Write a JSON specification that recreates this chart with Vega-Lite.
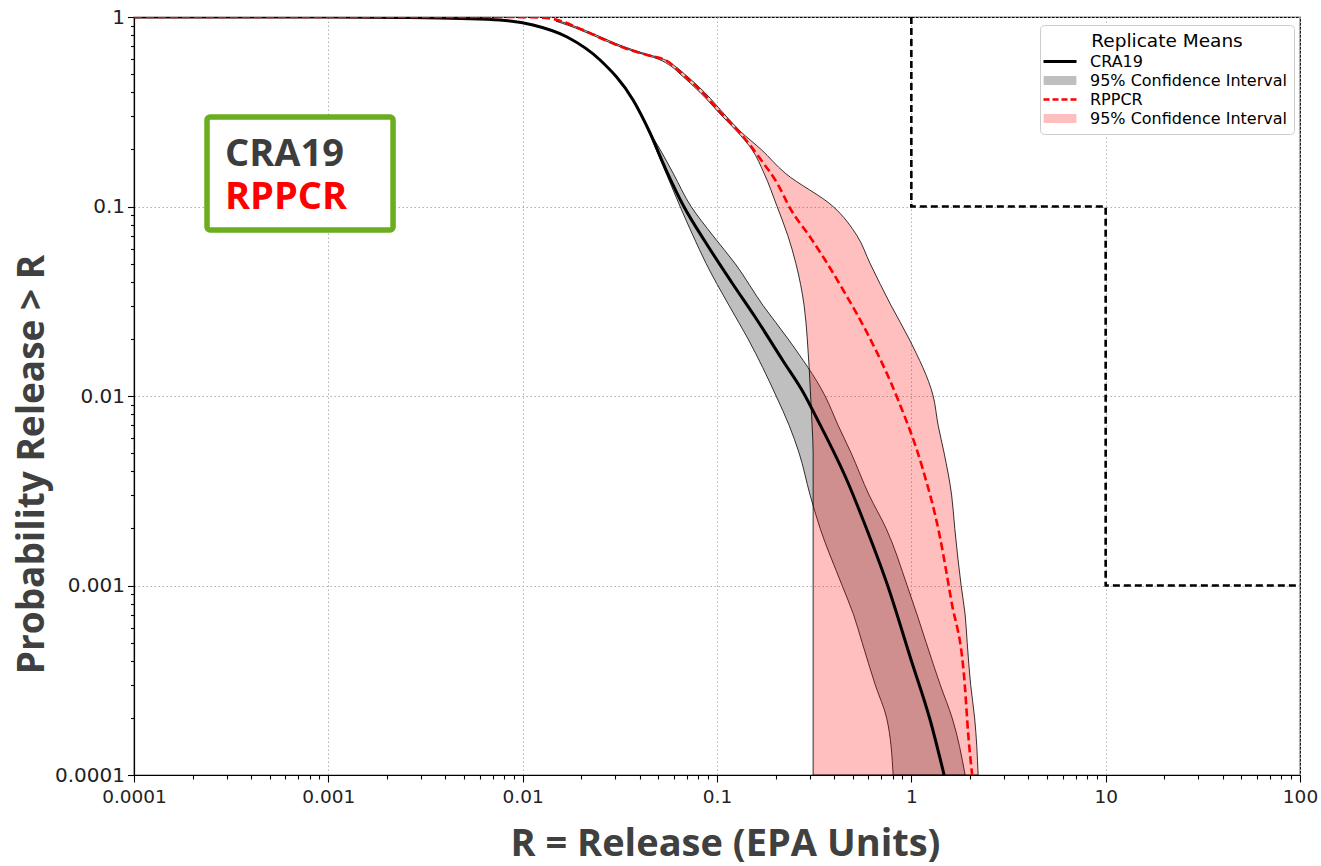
{
  "$schema": "https://vega.github.io/schema/vega-lite/v6.json",
  "width": 1166,
  "height": 758,
  "autosize": {"type": "none"},
  "padding": {"left": 134, "top": 17, "right": 21, "bottom": 91},
  "background": "white",
  "config": {
    "view": {"stroke": "black", "strokeWidth": 1.2},
    "font": "DejaVu Sans"
  },
  "datasets": {
    "bands": [
      {"series": "CRA19", "y": 0.24, "lo": 0.04525, "hi": 0.04579},
      {"series": "CRA19", "y": 0.2, "lo": 0.04859, "hi": 0.05095},
      {"series": "CRA19", "y": 0.15, "lo": 0.0547, "hi": 0.05943},
      {"series": "CRA19", "y": 0.1, "lo": 0.06458, "hi": 0.07358},
      {"series": "CRA19", "y": 0.07, "lo": 0.07534, "hi": 0.09548},
      {"series": "CRA19", "y": 0.05, "lo": 0.08789, "hi": 0.1239},
      {"series": "CRA19", "y": 0.03, "lo": 0.1154, "hi": 0.1727},
      {"series": "CRA19", "y": 0.02, "lo": 0.1445, "hi": 0.2322},
      {"series": "CRA19", "y": 0.01, "lo": 0.2015, "hi": 0.36},
      {"series": "CRA19", "y": 0.007, "lo": 0.235, "hi": 0.42},
      {"series": "CRA19", "y": 0.005, "lo": 0.2646, "hi": 0.49},
      {"series": "CRA19", "y": 0.003, "lo": 0.3014, "hi": 0.6065},
      {"series": "CRA19", "y": 0.002, "lo": 0.3393, "hi": 0.7419},
      {"series": "CRA19", "y": 0.001, "lo": 0.4404, "hi": 0.9515},
      {"series": "CRA19", "y": 0.0007, "lo": 0.5047, "hi": 1.071},
      {"series": "CRA19", "y": 0.0005, "lo": 0.5582, "hi": 1.192},
      {"series": "CRA19", "y": 0.0003, "lo": 0.6512, "hi": 1.407},
      {"series": "CRA19", "y": 0.0002, "lo": 0.7463, "hi": 1.622},
      {"series": "CRA19", "y": 0.0001, "lo": 0.8058, "hi": 1.892},
      {"series": "RPPCR", "y": 0.95, "lo": 0.01485, "hi": 0.01558},
      {"series": "RPPCR", "y": 0.9, "lo": 0.01733, "hi": 0.01817},
      {"series": "RPPCR", "y": 0.8, "lo": 0.02304, "hi": 0.02415},
      {"series": "RPPCR", "y": 0.7, "lo": 0.03134, "hi": 0.03286},
      {"series": "RPPCR", "y": 0.65, "lo": 0.0388, "hi": 0.04068},
      {"series": "RPPCR", "y": 0.6, "lo": 0.04975, "hi": 0.05281},
      {"series": "RPPCR", "y": 0.55, "lo": 0.05804, "hi": 0.06084},
      {"series": "RPPCR", "y": 0.5, "lo": 0.06458, "hi": 0.06812},
      {"series": "RPPCR", "y": 0.4, "lo": 0.08185, "hi": 0.08635},
      {"series": "RPPCR", "y": 0.3, "lo": 0.1062, "hi": 0.1113},
      {"series": "RPPCR", "y": 0.25, "lo": 0.1262, "hi": 0.1315},
      {"series": "RPPCR", "y": 0.2, "lo": 0.1512, "hi": 0.1687},
      {"series": "RPPCR", "y": 0.15, "lo": 0.1745, "hi": 0.2242},
      {"series": "RPPCR", "y": 0.1, "lo": 0.2038, "hi": 0.3958},
      {"series": "RPPCR", "y": 0.07, "lo": 0.2317, "hi": 0.526},
      {"series": "RPPCR", "y": 0.05, "lo": 0.2547, "hi": 0.6138},
      {"series": "RPPCR", "y": 0.03, "lo": 0.2808, "hi": 0.787},
      {"series": "RPPCR", "y": 0.02, "lo": 0.2915, "hi": 0.9743},
      {"series": "RPPCR", "y": 0.01, "lo": 0.3032, "hi": 1.295},
      {"series": "RPPCR", "y": 0.007, "lo": 0.3086, "hi": 1.374},
      {"series": "RPPCR", "y": 0.005, "lo": 0.3124, "hi": 1.475},
      {"series": "RPPCR", "y": 0.003, "lo": 0.3124, "hi": 1.612},
      {"series": "RPPCR", "y": 0.002, "lo": 0.3124, "hi": 1.673},
      {"series": "RPPCR", "y": 0.001, "lo": 0.3124, "hi": 1.804},
      {"series": "RPPCR", "y": 0.0007, "lo": 0.3124, "hi": 1.892},
      {"series": "RPPCR", "y": 0.0005, "lo": 0.3124, "hi": 1.938},
      {"series": "RPPCR", "y": 0.0003, "lo": 0.3124, "hi": 2.019},
      {"series": "RPPCR", "y": 0.0002, "lo": 0.3124, "hi": 2.117},
      {"series": "RPPCR", "y": 0.0001, "lo": 0.3124, "hi": 2.207}
    ],
    "means": [
      {"series": "CRA19", "x": 0.0001, "y": 1},
      {"series": "CRA19", "x": 0.001, "y": 1},
      {"series": "CRA19", "x": 0.002339, "y": 0.9939},
      {"series": "CRA19", "x": 0.004762, "y": 0.9819},
      {"series": "CRA19", "x": 0.00765, "y": 0.9642},
      {"series": "CRA19", "x": 0.01131, "y": 0.9073},
      {"series": "CRA19", "x": 0.01693, "y": 0.7843},
      {"series": "CRA19", "x": 0.02502, "y": 0.593},
      {"series": "CRA19", "x": 0.037, "y": 0.3648},
      {"series": "CRA19", "x": 0.04525, "y": 0.2443},
      {"series": "CRA19", "x": 0.0547, "y": 0.1558},
      {"series": "CRA19", "x": 0.06773, "y": 0.0994},
      {"series": "CRA19", "x": 0.08583, "y": 0.06656},
      {"series": "CRA19", "x": 0.1196, "y": 0.03948},
      {"series": "CRA19", "x": 0.1571, "y": 0.02611},
      {"series": "CRA19", "x": 0.2189, "y": 0.0153},
      {"series": "CRA19", "x": 0.2808, "y": 0.01025},
      {"series": "CRA19", "x": 0.3236, "y": 0.007747},
      {"series": "CRA19", "x": 0.4728, "y": 0.003474},
      {"series": "CRA19", "x": 0.5649, "y": 0.002216},
      {"series": "CRA19", "x": 0.7596, "y": 0.000982},
      {"series": "CRA19", "x": 0.9977, "y": 0.0004045},
      {"series": "CRA19", "x": 1.2496, "y": 0.0001951},
      {"series": "CRA19", "x": 1.475, "y": 0.0001},
      {"series": "RPPCR", "x": 0.0001, "y": 1},
      {"series": "RPPCR", "x": 0.00765, "y": 1},
      {"series": "RPPCR", "x": 0.01092, "y": 0.9964},
      {"series": "RPPCR", "x": 0.01384, "y": 0.9819},
      {"series": "RPPCR", "x": 0.02046, "y": 0.854},
      {"series": "RPPCR", "x": 0.02655, "y": 0.7561},
      {"series": "RPPCR", "x": 0.03446, "y": 0.6779},
      {"series": "RPPCR", "x": 0.04368, "y": 0.6303},
      {"series": "RPPCR", "x": 0.05535, "y": 0.5858},
      {"series": "RPPCR", "x": 0.06458, "y": 0.5126},
      {"series": "RPPCR", "x": 0.08185, "y": 0.4119},
      {"series": "RPPCR", "x": 0.1037, "y": 0.3152},
      {"series": "RPPCR", "x": 0.1315, "y": 0.2443},
      {"series": "RPPCR", "x": 0.1687, "y": 0.1759},
      {"series": "RPPCR", "x": 0.2038, "y": 0.133},
      {"series": "RPPCR", "x": 0.2406, "y": 0.09583},
      {"series": "RPPCR", "x": 0.3014, "y": 0.06903},
      {"series": "RPPCR", "x": 0.36, "y": 0.0522},
      {"series": "RPPCR", "x": 0.4457, "y": 0.03626},
      {"series": "RPPCR", "x": 0.5924, "y": 0.02151},
      {"series": "RPPCR", "x": 0.8553, "y": 0.009526},
      {"series": "RPPCR", "x": 1.137, "y": 0.004221},
      {"series": "RPPCR", "x": 1.39, "y": 0.001892},
      {"series": "RPPCR", "x": 1.603, "y": 0.000839},
      {"series": "RPPCR", "x": 1.881, "y": 0.0003058},
      {"series": "RPPCR", "x": 1.96, "y": 0.0001665},
      {"series": "RPPCR", "x": 2.056, "y": 0.0001}
    ],
    "limit": [
      {"i": 0, "x": 1, "y": 1},
      {"i": 1, "x": 1, "y": 0.1},
      {"i": 2, "x": 10, "y": 0.1},
      {"i": 3, "x": 10, "y": 0.001},
      {"i": 4, "x": 100, "y": 0.001}
    ]
  },
  "layer": [
    {
      "data": {"name": "bands"},
      "transform": [{"filter": "datum.series === 'CRA19'"}],
      "mark": {"type": "area", "orient": "horizontal", "fill": "#bfbfbf", "opacity": 1, "stroke": "black", "strokeWidth": 0.8, "interpolate": "monotone", "clip": true},
      "encoding": {
        "y": {
          "field": "y", "type": "quantitative", "title": "Probability Release > R",
          "scale": {"type": "log", "domain": [0.0001, 1], "nice": false},
          "axis": {
            "values": [0.0001, 0.0002, 0.0003, 0.0004, 0.0005, 0.0006, 0.0007, 0.0008, 0.0009, 0.001, 0.002, 0.003, 0.004, 0.005, 0.006, 0.007, 0.008, 0.009, 0.01, 0.02, 0.03, 0.04, 0.05, 0.06, 0.07, 0.08, 0.09, 0.1, 0.2, 0.3, 0.4, 0.5, 0.6, 0.7, 0.8, 0.9, 1],
            "labelExpr": "abs(log(datum.value)/LN10 - round(log(datum.value)/LN10)) < 0.000001 ? format(datum.value, '~g') : ''",
            "labelOverlap": false, "labelFlush": false, "labelBound": false,
            "tickSize": {"condition": {"test": "abs(log(datum.value)/LN10 - round(log(datum.value)/LN10)) < 0.000001", "value": 6.5}, "value": 3.5},
            "tickColor": "black", "tickWidth": 1.1,
            "grid": true,
            "gridOpacity": {"condition": {"test": "abs(log(datum.value)/LN10 - round(log(datum.value)/LN10)) < 0.000001", "value": 1}, "value": 0},
            "gridColor": "#b0b0b0", "gridDash": [1.5, 2.5], "gridWidth": 1,
            "domainColor": "black", "domainWidth": 1.2,
            "labelFont": "DejaVu Sans", "labelFontSize": 20, "labelColor": "#222222", "labelPadding": 3,
            "titleFont": "Open Sans", "titleFontSize": 37, "titleFontWeight": "bold", "titleColor": "#404040",
            "titleX": -91, "titleY": 447, "titleAngle": -90, "titleBaseline": "alphabetic", "titleAlign": "center"
          }
        },
        "x": {
          "field": "lo", "type": "quantitative", "title": "R = Release (EPA Units)",
          "scale": {"type": "log", "domain": [0.0001, 100], "nice": false},
          "axis": {
            "values": [0.0001, 0.0002, 0.0003, 0.0004, 0.0005, 0.0006, 0.0007, 0.0008, 0.0009, 0.001, 0.002, 0.003, 0.004, 0.005, 0.006, 0.007, 0.008, 0.009, 0.01, 0.02, 0.03, 0.04, 0.05, 0.06, 0.07, 0.08, 0.09, 0.1, 0.2, 0.3, 0.4, 0.5, 0.6, 0.7, 0.8, 0.9, 1, 2, 3, 4, 5, 6, 7, 8, 9, 10, 20, 30, 40, 50, 60, 70, 80, 90, 100],
            "labelExpr": "abs(log(datum.value)/LN10 - round(log(datum.value)/LN10)) < 0.000001 ? format(datum.value, '~g') : ''",
            "labelOverlap": false, "labelFlush": false, "labelBound": false,
            "tickSize": {"condition": {"test": "abs(log(datum.value)/LN10 - round(log(datum.value)/LN10)) < 0.000001", "value": 7}, "value": 4},
            "tickColor": "black", "tickWidth": 1.1,
            "grid": true,
            "gridOpacity": {"condition": {"test": "abs(log(datum.value)/LN10 - round(log(datum.value)/LN10)) < 0.000001", "value": 1}, "value": 0},
            "gridColor": "#b0b0b0", "gridDash": [1.5, 2.5], "gridWidth": 1,
            "domainColor": "black", "domainWidth": 1.2,
            "labelFont": "DejaVu Sans", "labelFontSize": 18.5, "labelColor": "#222222", "labelPadding": 5,
            "titleFont": "Open Sans", "titleFontSize": 38, "titleFontWeight": "bold", "titleColor": "#404040",
            "titleX": 591, "titleY": 80, "titleBaseline": "alphabetic", "titleAlign": "center"
          }
        },
        "x2": {"field": "hi"}
      }
    },
    {
      "data": {"name": "bands"},
      "transform": [{"filter": "datum.series === 'RPPCR'"}],
      "mark": {"type": "area", "orient": "horizontal", "fill": "#ff0000", "fillOpacity": 0.25, "opacity": 1, "stroke": "black", "strokeOpacity": 1, "strokeWidth": 0.8, "interpolate": "monotone", "clip": true},
      "encoding": {
        "y": {"field": "y", "type": "quantitative", "title": "Probability Release > R"},
        "x": {"field": "lo", "type": "quantitative", "title": "R = Release (EPA Units)"},
        "x2": {"field": "hi"}
      }
    },
    {
      "data": {"name": "means"},
      "transform": [{"filter": "datum.series === 'CRA19'"}],
      "mark": {"type": "line", "strokeWidth": 3, "interpolate": "monotone", "clip": true},
      "encoding": {
        "x": {"field": "x", "type": "quantitative", "title": "R = Release (EPA Units)"},
        "y": {"field": "y", "type": "quantitative", "title": "Probability Release > R"},
        "color": {
          "field": "series", "type": "nominal",
          "scale": {"domain": ["CRA19", "CI_CRA19", "RPPCR", "CI_RPPCR"], "range": ["black", "#bfbfbf", "red", "#ffbfbf"]},
          "legend": {
            "orient": "none", "legendX": 906, "legendY": 8,
            "title": "Replicate Means", "titleFont": "DejaVu Sans", "titleFontSize": 18.5, "titleFontWeight": "normal", "titleColor": "black", "titleAnchor": "middle", "titlePadding": 3,
            "labelFont": "DejaVu Sans", "labelFontSize": 16, "labelColor": "black", "labelLimit": 400,
            "labelExpr": "(datum.value === 'CI_CRA19' || datum.value === 'CI_RPPCR') ? '95% Confidence Interval' : datum.value",
            "fillColor": "white", "strokeColor": "#cccccc", "cornerRadius": 4, "padding": 7,
            "rowPadding": 3, "symbolOffset": 5, "labelOffset": 22, "symbolSize": 100,
            "encode": {
              "symbols": {
                "update": {
                  "shape": {"signal": "(datum.value === 'CRA19' || datum.value === 'RPPCR') ? 'M-3.3,0H3.3' : 'M-3.2,-0.8H3.2V0.8H-3.2Z'"},
                  "size": {"value": 100},
                  "fill": {"signal": "datum.value === 'CI_CRA19' ? '#bfbfbf' : (datum.value === 'CI_RPPCR' ? '#ffbfbf' : 'transparent')"},
                  "stroke": {"signal": "datum.value === 'CRA19' ? 'black' : (datum.value === 'RPPCR' ? 'red' : (datum.value === 'CI_CRA19' ? '#9a9a9a' : '#f4a6a6'))"},
                  "strokeWidth": {"signal": "datum.value === 'CRA19' ? 3 : (datum.value === 'RPPCR' ? 2.5 : 1)"},
                  "strokeDash": {"signal": "datum.value === 'RPPCR' ? [6, 3] : [1, 0]"},
                  "opacity": {"value": 1},
                  "fillOpacity": {"value": 1},
                  "strokeOpacity": {"value": 1}
                }
              }
            }
          }
        }
      }
    },
    {
      "data": {"name": "means"},
      "transform": [{"filter": "datum.series === 'RPPCR'"}],
      "mark": {"type": "line", "strokeWidth": 2.6, "strokeDash": [8, 4], "interpolate": "monotone", "clip": true},
      "encoding": {
        "x": {"field": "x", "type": "quantitative", "title": "R = Release (EPA Units)"},
        "y": {"field": "y", "type": "quantitative", "title": "Probability Release > R"},
        "color": {"field": "series", "type": "nominal"}
      }
    },
    {
      "data": {"name": "limit"},
      "mark": {"type": "line", "color": "black", "strokeWidth": 2.6, "strokeDash": [7, 4], "clip": true},
      "encoding": {
        "x": {"field": "x", "type": "quantitative", "title": "R = Release (EPA Units)"},
        "y": {"field": "y", "type": "quantitative", "title": "Probability Release > R"},
        "order": {"field": "i", "type": "quantitative"}
      }
    },
    {
      "data": {"values": [{}]},
      "mark": {"type": "rect", "fill": "white", "stroke": "#6aad1e", "strokeWidth": 5.5, "cornerRadius": 3},
      "encoding": {
        "x": {"datum": 0.0002375, "type": "quantitative"},
        "x2": {"datum": 0.002153},
        "y": {"datum": 0.2967, "type": "quantitative"},
        "y2": {"datum": 0.07516}
      }
    },
    {
      "data": {"values": [{}]},
      "mark": {"type": "text", "text": "CRA19", "font": "Open Sans", "fontWeight": "bold", "fontSize": 38, "color": "#3d3d3d", "align": "left", "baseline": "alphabetic"},
      "encoding": {
        "x": {"datum": 0.0002939, "type": "quantitative"},
        "y": {"datum": 0.1635, "type": "quantitative"}
      }
    },
    {
      "data": {"values": [{}]},
      "mark": {"type": "text", "text": "RPPCR", "font": "Open Sans", "fontWeight": "bold", "fontSize": 38, "color": "#ff0000", "align": "left", "baseline": "alphabetic"},
      "encoding": {
        "x": {"datum": 0.0002939, "type": "quantitative"},
        "y": {"datum": 0.097, "type": "quantitative"}
      }
    }
  ]
}
